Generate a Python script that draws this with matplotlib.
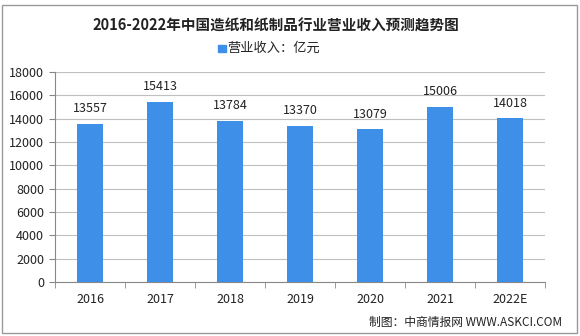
import matplotlib
matplotlib.use("Agg")
import matplotlib.pyplot as plt
from matplotlib.patches import Rectangle

plt.rcParams['font.family'] = ['Noto Sans CJK SC', 'DejaVu Sans']

categories = ['2016', '2017', '2018', '2019', '2020', '2021', '2022E']
revenue = [13557, 15413, 13784, 13370, 13079, 15006, 14018]
yticks = [0, 2000, 4000, 6000, 8000, 10000, 12000, 14000, 16000, 18000]
title = '2016-2022年中国造纸和纸制品行业营业收入预测趋势图'
legend_label = '营业收入：亿元'
footer = '制图：中商情报网 WWW.ASKCI.COM'

bar_color = '#3d8fe8'
grid_color = '#bfbfbf'

fig = plt.figure(figsize=(5.8, 3.36), dpi=100)
ax = fig.add_axes([0.095, 0.161, 0.845, 0.625])

x = list(range(len(categories)))
bars = ax.bar(x, revenue, width=0.37, color=bar_color, zorder=3)
for xi, v in zip(x, revenue):
    ax.text(xi, v + 750, str(v), ha='center', va='bottom', fontsize=9, color='#222222')

ax.set_xlim(-0.5, len(categories) - 0.5)
ax.set_ylim(0, 18000)
ax.set_yticks(yticks)
ax.set_yticklabels([str(t) for t in yticks], fontsize=9, color='#222222')
ax.yaxis.grid(True, color=grid_color, linewidth=0.8, zorder=0)
ax.set_xticks(x)
ax.set_xticklabels(categories, fontsize=9, color='#222222')
ax.tick_params(axis='x', length=0, pad=8)
ax.tick_params(axis='y', length=4, color='#888888', pad=4)
ax.set_xticks([i - 0.5 for i in range(len(categories) + 1)], minor=True)
ax.tick_params(axis='x', which='minor', length=4, color='#888888')
for s in ['top', 'right']:
    ax.spines[s].set_visible(False)
ax.spines['left'].set_color('#888888')
ax.spines['bottom'].set_color('#888888')

fig.text(0.476, 0.925, title, ha='center', va='center', fontsize=10.5, fontweight='bold', color='#222222')
fig.patches.append(Rectangle((0.376, 0.845), 0.014, 0.022, transform=fig.transFigure,
                             color=bar_color, figure=fig))
fig.text(0.392, 0.856, legend_label, ha='left', va='center', fontsize=9.5, color='#222222')
fig.text(0.97, 0.04, footer, ha='right', va='center', fontsize=8.5, color='#222222')

fig.patches.append(Rectangle((0.004, 0.01), 0.99, 0.975, transform=fig.transFigure,
                             fill=False, edgecolor='#999999', linewidth=1, figure=fig))

fig.savefig('out.png', dpi=100)
